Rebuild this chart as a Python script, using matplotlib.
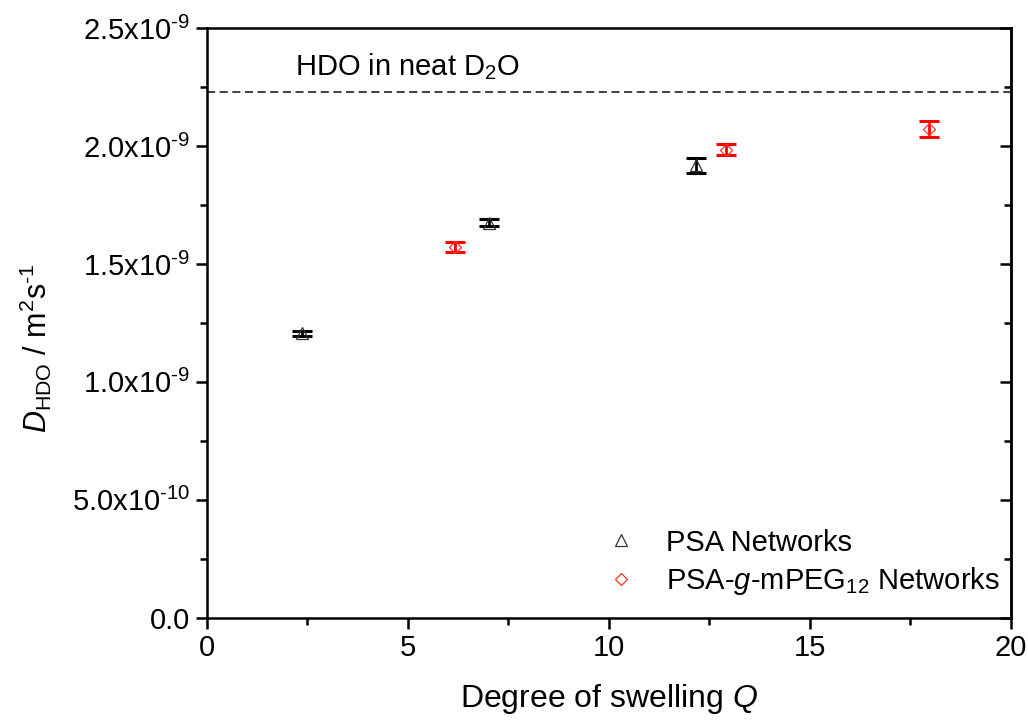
import numpy as np
import matplotlib
matplotlib.use("Agg")
import matplotlib.pyplot as plt
from matplotlib.ticker import FuncFormatter

plt.rcParams['font.family'] = ['Liberation Sans', 'DejaVu Sans']
plt.rcParams['mathtext.fontset'] = 'custom'
plt.rcParams['mathtext.rm'] = 'Liberation Sans'
plt.rcParams['mathtext.it'] = 'Liberation Sans:italic'
plt.rcParams['mathtext.bf'] = 'Liberation Sans:bold'

# PSA networks
psa_q = [2.38, 7.03, 12.17]
psa_d = [1.206e-9, 1.675e-9, 1.919e-9]
psa_err = [0.011e-9, 0.014e-9, 0.032e-9]

# PSA-g-mPEG12 networks
peg_q = [6.18, 12.92, 17.98]
peg_d = [1.571e-9, 1.985e-9, 2.074e-9]
peg_err = [0.020e-9, 0.023e-9, 0.034e-9]

d2o_ref = 2.23e-9

fig = plt.figure(figsize=(10.28, 7.2), dpi=100)
ax = fig.add_axes([0.201, 0.142, 0.782, 0.819])

ax.axhline(d2o_ref, color='#333333', ls=(0, (4.5, 2.5)), lw=1.3, zorder=1)
ax.text(2.2, 2.335e-9, r'HDO in neat D$_2$O', fontsize=21, va='center', ha='left')

ax.errorbar(psa_q, psa_d, yerr=psa_err, fmt='none', ecolor='black',
            elinewidth=2, capsize=7, capthick=2.2, zorder=2)
ax.errorbar(peg_q, peg_d, yerr=peg_err, fmt='none', ecolor='red',
            elinewidth=2, capsize=7, capthick=2.2, zorder=2)
ax.plot(psa_q, psa_d, ls='none', marker='^', ms=8.5, mfc='none', mec='#333333',
        mew=0.9, label='PSA Networks', zorder=3)
ax.plot(peg_q, peg_d, ls='none', marker='D', ms=6.5, mfc='none', mec='#ff3030',
        mew=0.9, label=r'PSA-$g$-mPEG$_{12}$ Networks', zorder=3)

ax.set_xlim(0, 20)
ax.set_ylim(0, 2.5e-9)
xt = np.arange(0, 20.1, 5)
xm = np.arange(2.5, 20, 5)
yt = np.arange(0, 6) * 0.5e-9
ym = np.arange(0, 5) * 0.5e-9 + 0.25e-9
ax.set_xticks(xt)
ax.set_xticks(xm, minor=True)
ax.set_yticks(yt)
ax.set_yticks(ym, minor=True)


def yfmt(v, pos):
    if abs(v) < 1e-15:
        return '0.0'
    e = int(np.floor(np.log10(abs(v)) + 1e-9))
    m = v / 10 ** e
    return r'$\mathregular{%.1fx10^{\text{-}%d}}$' % (m, -e)


ax.yaxis.set_major_formatter(FuncFormatter(yfmt))
ax.xaxis.set_major_formatter(FuncFormatter(lambda v, p: '%d' % v))

for s in ax.spines.values():
    s.set_linewidth(1.8)
ax.tick_params(which='both', direction='out', width=1.8, labelsize=21, pad=4)
ax.tick_params(which='major', length=8)
ax.tick_params(which='minor', length=5)
ax.tick_params(top=False, right=False)

sec = ax.secondary_yaxis('right')
sec.set_yticks(yt)
sec.set_yticks(ym, minor=True)
sec.tick_params(which='both', direction='in', width=1.8, labelright=False)
sec.tick_params(which='major', length=8)
sec.tick_params(which='minor', length=5)
sec.spines['right'].set_linewidth(1.8)

ax.set_xlabel(r'Degree of swelling $Q$', fontsize=23, labelpad=14)
ax.set_ylabel(r'$D_{\mathrm{HDO}}$ / m$^2$s$^{\text{-}1}$', fontsize=22)
ax.yaxis.set_label_coords(-0.19, 0.457)

ax.legend(loc='lower right', frameon=False, fontsize=21, handletextpad=0.8,
          borderaxespad=0.3, labelspacing=0.3, handlelength=1.5,
          bbox_to_anchor=(1.012, 0.0))

fig.savefig('out.png', dpi=100)
